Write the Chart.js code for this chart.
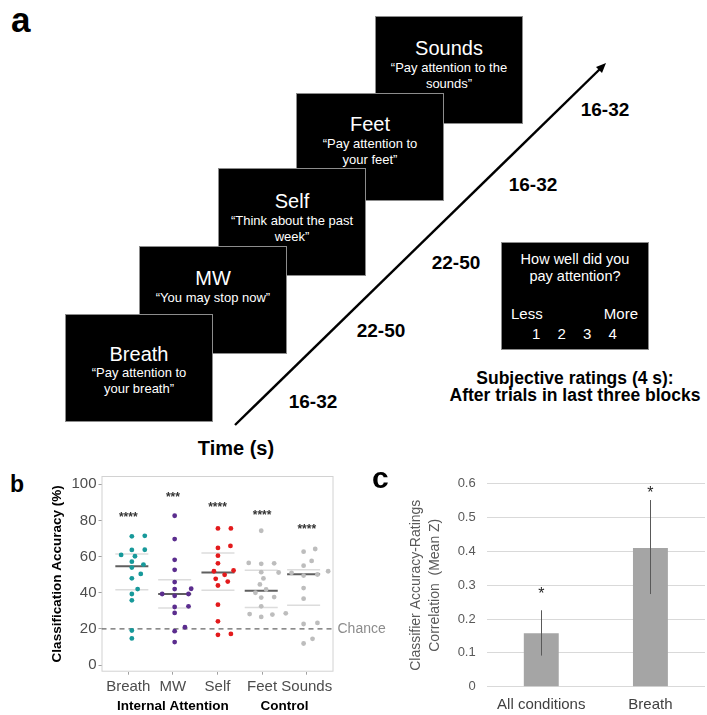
<!DOCTYPE html>
<html>
<head>
<meta charset="utf-8">
<script src="https://cdn.jsdelivr.net/npm/chart.js@4.4.1/dist/chart.umd.min.js"></script>
<style>
  body { margin: 0; background: #fff; overflow: hidden; }
  #fig { position: relative; width: 707px; height: 715px; font-family: "Liberation Sans", Arial, sans-serif; }
  .box { position: absolute; width: 148px; height: 108px; box-sizing: border-box; background: #000; border: 1px solid #8c8c8c; color: #fff; }
  .box .t { position: absolute; left: 0; right: 0; text-align: center; font-size: 20px; line-height: 22px; }
  .box .s { position: absolute; left: 0; right: 0; text-align: center; font-size: 13px; line-height: 16px; }
  .lbl { position: absolute; transform: translate(-50%, -50%); white-space: nowrap; font-weight: bold; color: #000; }
  .panel { position: absolute; font-weight: bold; color: #000; line-height: 1; }
  canvas { position: absolute; }
</style>
</head>
<body>
<div id="fig">
  <!-- panel a: task timeline -->
  <div class="panel" style="left:11px;top:2px;font-size:35px">a</div>

  <div class="box" style="left:375px;top:16px">
    <div class="t" style="top:20px">Sounds</div>
    <div class="s" style="top:43px">“Pay attention to the<br>sounds”</div>
  </div>
  <div class="box" style="left:296px;top:93px">
    <div class="t" style="top:19px">Feet</div>
    <div class="s" style="top:42px">“Pay attention to<br>your feet”</div>
  </div>
  <div class="box" style="left:218px;top:168px">
    <div class="t" style="top:21px">Self</div>
    <div class="s" style="top:44px">“Think about the past<br>week”</div>
  </div>
  <div class="box" style="left:139px;top:246px">
    <div class="t" style="top:20px">MW</div>
    <div class="s" style="top:43px">“You may stop now”</div>
  </div>
  <div class="box" style="left:65px;top:314px">
    <div class="t" style="top:28px">Breath</div>
    <div class="s" style="top:50px">“Pay attention to<br>your breath”</div>
  </div>

  <div class="box" style="left:501px;top:242px">
    <div class="s" style="top:8px;font-size:14.5px;line-height:17px">How well did you<br>pay attention?</div>
    <div style="position:absolute;left:9px;top:62px;font-size:15px">Less</div>
    <div style="position:absolute;right:10px;top:62px;font-size:15px">More</div>
    <div style="position:absolute;left:30px;top:82px;font-size:15px;word-spacing:13px">1 2 3 4</div>
  </div>

  <svg style="position:absolute;left:0;top:0" width="707" height="460">
    <line x1="235" y1="425" x2="601" y2="68" stroke="#000" stroke-width="2.4"/>
    <polygon points="606,63 602,73 596,67" fill="#000"/>
  </svg>

  <div class="lbl" style="left:313px;top:402px;font-size:19px">16-32</div>
  <div class="lbl" style="left:381px;top:331px;font-size:19px">22-50</div>
  <div class="lbl" style="left:456px;top:263px;font-size:19px">22-50</div>
  <div class="lbl" style="left:533px;top:185px;font-size:19px">16-32</div>
  <div class="lbl" style="left:605px;top:110px;font-size:19px">16-32</div>
  <div class="lbl" style="left:236px;top:448px;font-size:20px">Time (s)</div>
  <div class="lbl" style="left:575px;top:387px;font-size:17.5px;line-height:17px;text-align:center">Subjective ratings (4 s):<br>After trials in last three blocks</div>

  <!-- panel b -->
  <div class="panel" style="left:10px;top:473px;font-size:23px">b</div>
  <canvas id="accChart" width="355" height="250" style="left:40px;top:465px"></canvas>

  <!-- panel c -->
  <div class="panel" style="left:372px;top:463px;font-size:30px">c</div>
  <canvas id="corrChart" width="307" height="250" style="left:400px;top:465px"></canvas>
</div>

<script>
// ---- panel b data: classification accuracy (%) per participant ----
const categories = ["Breath", "MW", "Self", "Feet", "Sounds"];
const groupNames = ["Internal Attention", "Control"];
const groupSpans = [[1, 3], [4, 5]];
const accTicks = [0, 20, 40, 60, 80, 100];

const breathAcc = [71.2, 71.5, 63.7, 63.8, 60.9, 60.2, 57.2, 53.9, 55.6, 50.4, 48.0, 42.0, 39.3, 35.8, 19.1, 14.7];
const breathJit = [0.08, 0.37, 0.08, 0.37, -0.16, 0.15, 0.08, 0.08, 0.34, 0.28, 0.08, 0.21, 0.08, 0.08, 0.08, 0.08];
const mwAcc = [82.6, 69.7, 58.2, 52.7, 45.9, 42.0, 42.2, 39.3, 38.3, 39.3, 32.1, 32.5, 28.8, 20.9, 18.7, 12.7];
const mwJit = [0.04, 0.04, 0.04, 0.04, 0.04, 0.04, 0.41, -0.24, 0.04, 0.35, 0.04, 0.35, 0.04, 0.27, 0.04, 0.04];
const selfAcc = [75.6, 75.6, 64.8, 65.9, 60.5, 56.3, 51.9, 52.3, 49.9, 47.7, 46.2, 44.0, 33.4, 24.2, 16.7, 17.2];
const selfJit = [0.01, 0.30, 0.01, 0.29, 0.01, 0.01, -0.08, 0.36, 0.16, -0.04, 0.23, 0.01, 0.01, 0.01, 0.01, 0.30];
const feetAcc = [74.3, 56.5, 56.0, 56.3, 51.4, 51.2, 47.9, 44.6, 41.8, 40.0, 37.3, 37.6, 32.5, 28.2, 26.6, 27.9, 28.6];
const feetJit = [-0.02, -0.30, -0.02, 0.27, -0.02, 0.37, 0.03, -0.05, 0.09, -0.15, -0.02, 0.27, -0.02, -0.28, -0.02, 0.23, 0.53];
const soundsAcc = [62.7, 64.2, 57.6, 55.0, 51.0, 49.5, 50.1, 51.9, 42.6, 36.7, 22.7, 23.3, 11.9, 14.5];
const soundsJit = [-0.07, 0.19, 0.11, -0.07, -0.34, -0.07, 0.24, 0.48, -0.07, -0.07, -0.07, 0.24, -0.07, 0.13];

const meanAcc = [54.7, 39.3, 51.2, 41.1, 50.2];
const upperAcc = [61.5, 47.2, 62.0, 52.5, 52.7];
const lowerAcc = [41.7, 31.6, 41.4, 31.8, 33.1];
const sigStars = ["****", "***", "****", "****", "****"];
const starAcc = [83.6, 94.8, 89.0, 84.9, 77.0];
const chanceAcc = 20;

// ---- panel c data: accuracy-ratings correlation ----
const corrCats = ["All conditions", "Breath"];
const corrMean = [0.158, 0.41];
const corrLow = [0.092, 0.274];
const corrHigh = [0.226, 0.552];
const corrStarY = [0.285, 0.586];
const corrTicks = [0, 0.1, 0.2, 0.3, 0.4, 0.5, 0.6];

Chart.defaults.font.family = '"Liberation Sans", Arial, sans-serif';
Chart.defaults.animation = false;
Chart.defaults.events = [];
Chart.defaults.plugins.legend.display = false;
Chart.defaults.plugins.tooltip.enabled = false;

const groups = [
  { acc: breathAcc, jit: breathJit, color: "#17999a" },
  { acc: mwAcc, jit: mwJit, color: "#5b2d8e" },
  { acc: selfAcc, jit: selfJit, color: "#e31a1c" },
  { acc: feetAcc, jit: feetJit, color: "#bdbdbd" },
  { acc: soundsAcc, jit: soundsJit, color: "#bdbdbd" },
];

function median(arr) {
  const s = [...arr].sort((a, b) => a - b);
  const m = Math.floor(s.length / 2);
  return s.length % 2 ? s[m] : (s[m - 1] + s[m]) / 2;
}

const datasets = [];
// crossbars (mean + quartile-ish lines)
groups.forEach((g, i) => {
  const cx = i + 1 + median(g.jit);
  [[lowerAcc, "#dcdcdc", 1.5], [upperAcc, "#dcdcdc", 1.5], [meanAcc, "#5f5f5f", 2]].forEach(([arr, col, w]) => {
    datasets.push({
      data: [{ x: cx - 0.37, y: arr[i] }, { x: cx + 0.37, y: arr[i] }],
      showLine: true, borderColor: col, borderWidth: w, pointRadius: 0, order: 2
    });
  });
});
// chance level
datasets.push({
  data: [{ x: 0.4, y: chanceAcc }, { x: 5.6, y: chanceAcc }],
  showLine: true, borderColor: "#666", borderWidth: 1.2, borderDash: [5, 4], pointRadius: 0, order: 1
});
// participants
groups.forEach((g, i) => {
  datasets.push({
    data: g.acc.map((v, j) => ({ x: i + 1 + g.jit[j], y: v })),
    pointRadius: 2.4, backgroundColor: g.color, borderWidth: 0, order: 0
  });
});

const accDecor = {
  id: "accDecor",
  beforeDatasetsDraw(chart) {
    const { ctx, chartArea: a } = chart;
    ctx.save();
    ctx.strokeStyle = "#d2d2d2";
    ctx.lineWidth = 1;
    ctx.strokeRect(a.left + 0.5, a.top + 0.5, a.width - 1, a.height - 1);
    ctx.restore();
  },
  afterDraw(chart) {
    const { ctx, chartArea: a, scales: { x, y } } = chart;
    ctx.save();
    ctx.fillStyle = "#333";
    ctx.font = "bold 12px 'Liberation Sans', Arial";
    ctx.textAlign = "center";
    ctx.textBaseline = "alphabetic";
    sigStars.forEach((s, i) => {
      ctx.fillText(s, x.getPixelForValue(i + 1), y.getPixelForValue(starAcc[i]) + 7);
    });
    ctx.fillStyle = "#8c8c8c";
    ctx.font = "14px 'Liberation Sans', Arial";
    ctx.textAlign = "left";
    ctx.textBaseline = "middle";
    ctx.fillText("Chance", a.right + 4, y.getPixelForValue(chanceAcc));
    ctx.fillStyle = "#000";
    ctx.font = "bold 13.5px 'Liberation Sans', Arial";
    ctx.textAlign = "center";
    groupNames.forEach((n, i) => {
      const mid = (groupSpans[i][0] + groupSpans[i][1]) / 2;
      ctx.fillText(n, x.getPixelForValue(mid), a.bottom + 35);
    });
    ctx.restore();
  }
};

new Chart(document.getElementById("accChart"), {
  type: "scatter",
  data: { datasets },
  options: {
    responsive: false,
    devicePixelRatio: 1,
    layout: { padding: { left: 0, top: 10, right: 61.5, bottom: 0 } },
    scales: {
      x: {
        type: "linear", min: 0.4, max: 5.6,
        afterBuildTicks: s => { s.ticks = categories.map((c, i) => ({ value: i + 1 })); },
        afterFit: s => { s.height = 43.3; },
        grid: { drawOnChartArea: false, tickLength: 3, color: "#a0a0a0" },
        border: { display: false },
        ticks: { padding: 3, color: "#4d4d4d", font: { size: 15 }, callback: v => categories[v - 1] }
      },
      y: {
        min: -3.7, max: 104.6,
        afterBuildTicks: s => { s.ticks = accTicks.map(v => ({ value: v })); },
        afterFit: s => { s.width = 61.5; },
        grid: { drawOnChartArea: false, tickLength: 3, color: "#a0a0a0" },
        border: { display: false },
        ticks: { padding: 2, color: "#4d4d4d", font: { size: 15 } },
        title: {
          display: true, text: "Classification Accuracy (%)", color: "#000",
          font: { size: 13.5, weight: "bold" }, padding: { top: 9, bottom: 0 }
        }
      }
    }
  },
  plugins: [accDecor]
});

const corrDecor = {
  id: "corrDecor",
  afterDatasetsDraw(chart) {
    const { ctx, scales: { x, y } } = chart;
    ctx.save();
    ctx.strokeStyle = "#595959";
    ctx.lineWidth = 1;
    corrCats.forEach((c, i) => {
      const px = Math.round(x.getPixelForValue(i)) + 0.5;
      ctx.beginPath();
      ctx.moveTo(px, y.getPixelForValue(corrLow[i]));
      ctx.lineTo(px, y.getPixelForValue(corrHigh[i]));
      ctx.stroke();
    });
    ctx.fillStyle = "#262626";
    ctx.font = "16px 'Liberation Sans', Arial";
    ctx.textAlign = "center";
    ctx.textBaseline = "alphabetic";
    corrCats.forEach((c, i) => {
      ctx.fillText("*", x.getPixelForValue(i), y.getPixelForValue(corrStarY[i]) + 9);
    });
    ctx.restore();
  }
};

new Chart(document.getElementById("corrChart"), {
  type: "bar",
  data: {
    labels: corrCats,
    datasets: [{
      data: corrMean, backgroundColor: "#a5a5a5", borderWidth: 0,
      barPercentage: 0.32, categoryPercentage: 1
    }]
  },
  options: {
    responsive: false,
    devicePixelRatio: 1,
    layout: { padding: { left: 0, top: 13.3, right: 2, bottom: 0 } },
    scales: {
      x: {
        afterFit: s => { s.height = 28.3; },
        grid: { display: false, drawTicks: false },
        border: { display: false },
        ticks: { padding: 9, color: "#404040", font: { size: 15 } }
      },
      y: {
        min: 0, max: 0.6,
        afterBuildTicks: s => { s.ticks = corrTicks.map(v => ({ value: v })); },
        afterFit: s => { s.width = 86.7; },
        grid: { color: "#d9d9d9", drawTicks: false },
        border: { display: false },
        ticks: { padding: 11, color: "#595959", font: { size: 13 }, callback: v => String(Math.round(v * 10) / 10) },
        title: {
          display: true, text: ["Classifier Accuracy-Ratings", "Correlation  (Mean Z)"],
          color: "#595959", font: { size: 14, lineHeight: 1.3 }, padding: { top: 7.5, bottom: 0 }
        }
      }
    }
  },
  plugins: [corrDecor]
});
</script>
</body>
</html>
